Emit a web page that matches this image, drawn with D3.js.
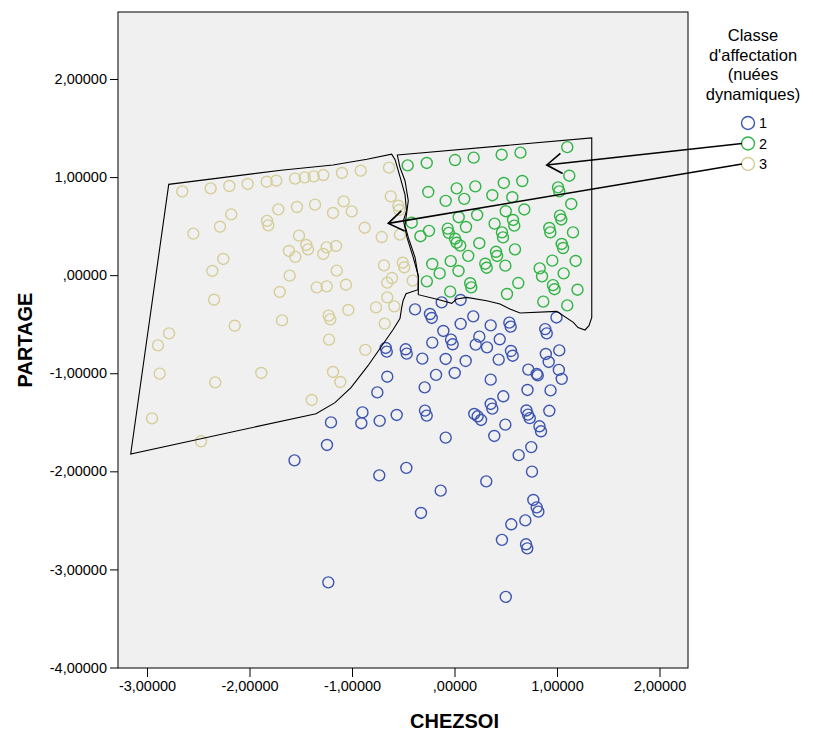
<!DOCTYPE html>
<html>
<head>
<meta charset="utf-8">
<script src="https://cdn.jsdelivr.net/npm/d3@7"></script>
<style>
  body { margin: 0; background: #fff; }
  text { font-family: Arial, "Liberation Sans", sans-serif; }
</style>
</head>
<body>
<div id="scatter"></div>
<script>
// DATA (CHEZSOI, PARTAGE) PER CLASS
const class1Points = [
  [-0.125,-0.277],[0.059,-0.253],[-0.385,-0.349],[-0.239,-0.396],[-0.222,-0.436],[0.183,-0.420],
  [0.060,-0.497],[0.353,-0.512],[0.535,-0.484],[0.548,-0.525],[0.995,-0.431],[0.885,-0.550],
  [0.900,-0.593],[-0.109,-0.569],[0.242,-0.627],[-0.034,-0.657],[-0.018,-0.705],[-0.217,-0.688],
  [0.207,-0.708],[0.317,-0.736],[0.441,-0.654],[-0.671,-0.742],[-0.661,-0.780],[-0.476,-0.756],
  [-0.466,-0.800],[0.551,-0.773],[0.568,-0.821],[0.891,-0.803],[1.022,-0.767],[-0.314,-0.851],
  [-0.086,-0.854],[0.109,-0.875],[0.431,-0.861],[0.919,-0.885],[-0.180,-1.017],[0.002,-0.997],
  [0.720,-0.963],[0.802,-1.007],[0.812,-1.022],[1.018,-0.966],[1.046,-1.057],[-0.656,-1.035],
  [0.353,-1.065],[-0.291,-1.144],[-0.753,-1.195],[0.712,-1.170],[0.937,-1.175],[0.476,-1.235],
  [0.353,-1.313],[0.369,-1.361],[-0.898,-1.399],[-0.909,-1.509],[-0.564,-1.425],[-0.288,-1.381],
  [-0.271,-1.432],[-0.730,-1.486],[0.193,-1.415],[0.226,-1.439],[0.259,-1.476],[0.702,-1.379],
  [0.717,-1.422],[0.734,-1.458],[0.925,-1.383],[0.496,-1.524],[0.829,-1.541],[0.844,-1.592],
  [-0.086,-1.656],[0.388,-1.639],[0.749,-1.753],[0.626,-1.835],[-1.205,-1.501],[-1.244,-1.731],
  [-1.561,-1.888],[-0.734,-2.041],[-0.470,-1.965],[-0.135,-2.197],[-0.327,-2.424],[0.756,-2.003],
  [0.310,-2.102],[0.769,-2.292],[0.802,-2.367],[0.818,-2.411],[0.691,-2.500],[0.554,-2.540],
  [0.463,-2.699],[0.698,-2.744],[0.710,-2.785],[-1.231,-3.132],[0.500,-3.280]
];

const class2Points = [
  [-0.457,1.119],[-0.271,1.144],[0.005,1.174],[0.187,1.198],[0.460,1.228],[0.644,1.249],
  [1.100,1.305],[1.120,1.014],[-0.256,0.848],[0.021,0.885],[0.203,0.905],[0.481,0.940],
  [0.661,0.960],[1.010,0.895],[1.022,0.854],[-0.086,0.757],[0.095,0.778],[0.369,0.815],
  [0.564,0.795],[1.139,0.726],[0.500,0.652],[0.681,0.670],[0.221,0.614],[0.041,0.591],
  [-0.417,0.535],[1.029,0.607],[1.042,0.568],[0.391,0.525],[0.571,0.563],[0.583,0.505],
  [0.112,0.491],[-0.066,0.474],[-0.056,0.431],[-0.249,0.452],[-0.332,0.397],[0.463,0.436],
  [0.473,0.385],[0.925,0.481],[0.935,0.436],[1.156,0.436],[0.005,0.372],[0.021,0.331],
  [0.056,0.301],[0.242,0.326],[1.046,0.318],[1.059,0.277],[0.590,0.263],[0.405,0.238],
  [0.415,0.196],[0.134,0.197],[-0.217,0.114],[-0.037,0.143],[-0.145,0.018],[0.039,0.043],
  [0.300,0.117],[0.314,0.076],[0.496,0.097],[0.954,0.148],[1.182,0.145],[0.831,0.069],
  [0.854,-0.012],[1.065,0.018],[-0.270,-0.063],[0.153,-0.082],[0.164,-0.124],[0.622,-0.080],
  [0.961,-0.102],[0.976,-0.143],[1.200,-0.148],[-0.042,-0.168],[0.512,-0.192],[0.866,-0.270],
  [1.100,-0.308]
];

const class3Points = [
  [-2.656,0.854],[-2.379,0.885],[-2.197,0.909],[-2.018,0.930],[-1.832,0.953],[-1.739,0.963],
  [-1.556,0.984],[-1.461,0.997],[-1.374,1.007],[-1.280,1.021],[-1.098,1.042],[-0.915,1.065],
  [-0.639,1.096],[-2.178,0.620],[-1.719,0.671],[-1.537,0.695],[-1.361,0.719],[-1.829,0.553],
  [-1.817,0.508],[-2.288,0.494],[-2.548,0.423],[-1.517,0.403],[-1.446,0.308],[-1.429,0.263],
  [-1.615,0.247],[-1.553,0.186],[-2.256,0.165],[-2.363,0.043],[-1.608,-0.005],[-1.344,-0.124],
  [-1.705,-0.171],[-2.346,-0.250],[-1.185,0.634],[-1.081,0.752],[-1.003,0.650],[-0.622,0.803],
  [-0.548,0.708],[-0.539,0.665],[-0.876,0.484],[-0.710,0.389],[-0.532,0.413],[-1.247,0.283],
  [-1.156,0.298],[-1.280,0.216],[-0.688,0.100],[-0.505,0.127],[-0.490,0.080],[-1.149,0.046],
  [-0.610,-0.029],[-0.656,-0.076],[-0.408,-0.056],[-1.247,-0.114],[-1.059,-0.097],[-0.656,-0.226],
  [-1.036,-0.355],[-0.766,-0.328],[-0.587,-0.318],[-0.681,-0.494],[-2.785,-0.593],[-2.893,-0.716],
  [-2.144,-0.515],[-1.683,-0.461],[-1.227,-0.413],[-1.212,-0.451],[-1.224,-0.657],[-0.870,-0.762],
  [-2.876,-1.004],[-2.334,-1.093],[-1.885,-0.997],[-1.185,-0.987],[-1.114,-1.089],[-1.393,-1.272],
  [-2.951,-1.460],[-2.473,-1.694]
];

// outlines drawn around classes 3 and 2
const outline3 = [
  [-3.159,-1.823],[-2.788,0.926],[-1.693,1.070],[-1.185,1.123],[-0.854,1.182],[-0.613,1.233],
  [-0.580,1.177],[-0.532,1.004],[-0.483,0.821],[-0.468,0.657],[-0.498,0.556],[-0.463,0.382],
  [-0.405,0.189],[-0.351,-0.015],[-0.356,-0.148],[-0.473,-0.189],[-0.502,-0.260],[-0.517,-0.341],
  [-0.532,-0.443],[-0.600,-0.556],[-0.844,-0.923],[-1.010,-1.147],[-1.166,-1.300],[-1.351,-1.412]
];
const outline2 = [
  [-0.558,1.225],[1.339,1.399],[1.339,-0.430],[1.312,-0.515],[1.273,-0.559],[1.205,-0.535],
  [1.159,-0.481],[0.997,-0.369],[0.639,-0.385],[0.541,-0.345],[0.444,-0.294],[0.314,-0.260],
  [0.119,-0.226],[0.021,-0.243],[-0.027,-0.287],[-0.141,-0.253],[-0.353,-0.199],[-0.353,-0.022],
  [-0.385,0.181],[-0.451,0.385],[-0.483,0.505],[-0.466,0.640],[-0.451,0.759],[-0.483,0.963],
  [-0.532,1.099]
];

// arrow tips (legend class -> point in plot)
const arrowTips = [
  { cls: "2", x: 0.900, y: 1.123 },
  { cls: "3", x: -0.646, y: 0.528 }
];

const xTicks = [-3, -2, -1, 0, 1, 2];
const yTicks = [2, 1, 0, -1, -2, -3, -4];
const classLabels = ["1", "2", "3"];
const legendTitle = ["Classe", "d'affectation", "(nuées", "dynamiques)"];

const colors = { "1": "#3c55b0", "2": "#30b444", "3": "#d5ce98" };

// SET GLOBAL VARIABLES
const margin = { top: 12, right: 125, bottom: 65, left: 118 };
const width = 813 - margin.left - margin.right;
const height = 733 - margin.top - margin.bottom;

const svg = d3.select("#scatter")
    .append("svg")
    .attr("width", 813)
    .attr("height", 733);

const g = svg.append("g")
    .attr("transform", `translate(${margin.left},${margin.top})`);

// Set scales
const x = d3.scaleLinear().domain([-3.283, 2.278]).range([0, width]);
const y = d3.scaleLinear().domain([-4.005, 2.683]).range([height, 0]);

// spss style numbers: 1,00000 / ,00000
const fmt = v => {
    let s = d3.format(".5f")(v).replace(".", ",");
    if (s.startsWith("0,")) s = s.slice(1);
    return s.replace("−", "-");
};

// plot background
g.append("rect")
    .attr("width", width)
    .attr("height", height)
    .attr("fill", "#f0f0f0");

// Draw axes
const xAxis = g.append("g")
    .attr("transform", `translate(0,${height})`)
    .call(d3.axisBottom(x).tickValues(xTicks).tickSize(9).tickPadding(4).tickFormat(fmt));

const yAxis = g.append("g")
    .call(d3.axisLeft(y).tickValues(yTicks).tickSize(8).tickPadding(3).tickFormat(fmt));

[xAxis, yAxis].forEach(a => {
    a.select(".domain").remove();
    a.selectAll("line").attr("stroke", "#000").attr("stroke-width", 1);
    a.selectAll("text")
        .attr("fill", "#000")
        .style("font-size", "14.5px")
        .style("font-family", "Arial, 'Liberation Sans', sans-serif");
});

// Points
const classes = [
    { cls: "1", pts: class1Points },
    { cls: "2", pts: class2Points },
    { cls: "3", pts: class3Points }
];

classes.forEach(c => {
    g.append("g").selectAll("circle")
        .data(c.pts)
        .join("circle")
        .attr("cx", d => x(d[0]))
        .attr("cy", d => y(d[1]))
        .attr("r", 5.5)
        .attr("fill", "none")
        .attr("stroke", colors[c.cls])
        .attr("stroke-width", 1.4);
});

// frame
g.append("rect")
    .attr("width", width)
    .attr("height", height)
    .attr("fill", "none")
    .attr("stroke", "#000")
    .attr("stroke-width", 1);

// outlines
const outline = d3.line()
    .x(d => x(d[0]))
    .y(d => y(d[1]))
    .curve(d3.curveLinearClosed);

[outline3, outline2].forEach(o => {
    g.append("path")
        .datum(o)
        .attr("fill", "none")
        .attr("stroke", "#000")
        .attr("stroke-width", 1.1)
        .attr("d", outline);
});

// Axis labels
svg.append("text")
    .attr("x", margin.left + x(0))
    .attr("y", 728)
    .attr("text-anchor", "middle")
    .style("font-size", "20px")
    .style("font-weight", "bold")
    .text("CHEZSOI");

svg.append("text")
    .attr("transform", `translate(32,${margin.top + height / 2}) rotate(-90)`)
    .attr("text-anchor", "middle")
    .style("font-size", "20px")
    .style("font-weight", "bold")
    .text("PARTAGE");

// Legend
const legendX = 753;
svg.append("g").selectAll("text")
    .data(legendTitle)
    .join("text")
    .attr("x", legendX)
    .attr("y", (d, i) => 41 + i * 19.5)
    .attr("text-anchor", "middle")
    .style("font-size", "16.5px")
    .text(d => d);

const legendY = i => 123 + i * 20.5;
const legend = svg.append("g");
classLabels.forEach((c, i) => {
    legend.append("circle")
        .attr("cx", 748)
        .attr("cy", legendY(i))
        .attr("r", 6.5)
        .attr("fill", "none")
        .attr("stroke", colors[c])
        .attr("stroke-width", 1.4);
    legend.append("text")
        .attr("x", 759)
        .attr("y", legendY(i) + 5)
        .style("font-size", "14.5px")
        .text(c);
});

// Arrows from legend to clusters
arrowTips.forEach(a => {
    const i = classLabels.indexOf(a.cls);
    const x0 = 742, y0 = legendY(i);
    const tx = margin.left + x(a.x), ty = margin.top + y(a.y);
    const ang = Math.atan2(y0 - ty, x0 - tx);
    const len = 18, spread = 0.6;
    svg.append("line")
        .attr("x1", x0).attr("y1", y0)
        .attr("x2", tx).attr("y2", ty)
        .attr("stroke", "#000")
        .attr("stroke-width", 1.6);
    svg.append("path")
        .attr("d", `M${tx + len * Math.cos(ang + spread)},${ty + len * Math.sin(ang + spread)}` +
                   `L${tx},${ty}` +
                   `L${tx + len * Math.cos(ang - spread)},${ty + len * Math.sin(ang - spread)}`)
        .attr("fill", "none")
        .attr("stroke", "#000")
        .attr("stroke-width", 1.6);
});
</script>
</body>
</html>
